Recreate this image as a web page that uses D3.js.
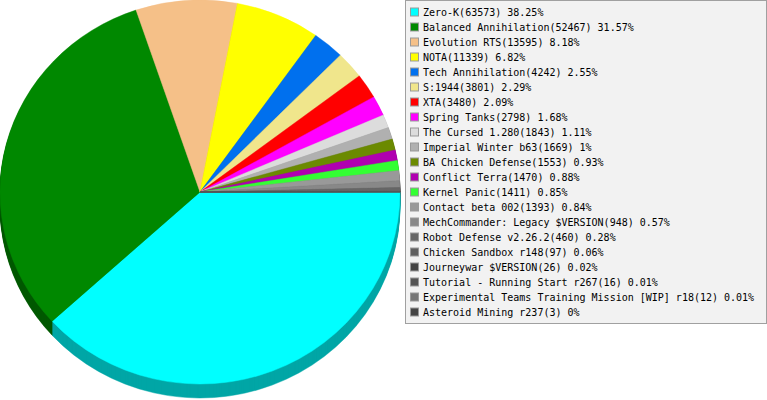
<!DOCTYPE html>
<html>
<head>
<meta charset="utf-8">
<script src="https://cdn.jsdelivr.net/npm/d3@7"></script>
<style>
  body { margin: 0; background: #fff; }
  svg { display: block; }
</style>
</head>
<body>
<svg width="767" height="400"></svg>
<script>
let names = ['Zero-K', 'Balanced Annihilation', 'Evolution RTS', 'NOTA', 'Tech Annihilation',
    'S:1944', 'XTA', 'Spring Tanks', 'The Cursed 1.280', 'Imperial Winter b63',
    'BA Chicken Defense', 'Conflict Terra', 'Kernel Panic', 'Contact beta 002',
    'MechCommander: Legacy $VERSION', 'Robot Defense v2.26.2', 'Chicken Sandbox r148',
    'Journeywar $VERSION', 'Tutorial - Running Start r267',
    'Experimental Teams Training Mission [WIP] r18', 'Asteroid Mining r237'];
let counts = [63573, 52467, 13595, 11339, 4242, 3801, 3480, 2798, 1843, 1669,
    1553, 1470, 1411, 1393, 948, 460, 97, 26, 16, 12, 3];
let colors = ['#00ffff', '#008800', '#f5c088', '#ffff00', '#0070ee', '#f0e68c', '#ff0000',
    '#ff00ff', '#dcdcdc', '#b0b0b0', '#6b8a00', '#b000b0', '#33ff33', '#999999',
    '#888888', '#666666', '#606060', '#444444', '#555555', '#777777', '#454545'];

let cx = 200
let cy = 192
let rx = 200
let ry = 192
let depth = 14

let total = d3.sum(counts)
let dataArr = names.map((n, i) => ({ name: n, value: counts[i], color: colors[i] }))

let svg = d3.select('svg')

let pie = d3.pie()
    .sort(null)
    .value(d => d.value)
    .startAngle(Math.PI / 2)
    .endAngle(Math.PI / 2 + 2 * Math.PI)

let arcs = pie(dataArr)

let arc = d3.arc()
    .innerRadius(0)
    .outerRadius(rx)

// side of the pie, stacked copies in darker colours
for (let k = depth; k >= 1; k--) {
    svg.append('g')
        .attr('transform', 'translate(' + cx + ',' + (cy + k) + ') scale(1,' + (ry / rx) + ')')
        .selectAll('path')
        .data(arcs)
        .enter()
        .append('path')
        .attr('d', arc)
        .attr('fill', d => d3.color(d.data.color).darker(1.2))
        .attr('stroke', d => d3.color(d.data.color).darker(1.2))
        .attr('stroke-width', 0.5)
}

// top face
svg.append('g')
    .attr('transform', 'translate(' + cx + ',' + cy + ') scale(1,' + (ry / rx) + ')')
    .selectAll('path')
    .data(arcs)
    .enter()
    .append('path')
    .attr('d', arc)
    .attr('fill', d => d.data.color)
    .attr('stroke', d => d.data.color)
    .attr('stroke-width', 0.5)

// legend
let legend = svg.append('g')

legend.append('rect')
    .attr('x', 405.5)
    .attr('y', 0.5)
    .attr('width', 361)
    .attr('height', 323)
    .attr('fill', '#f2f2f2')
    .attr('stroke', '#a0a0a0')

let rowY = d3.scalePoint()
    .domain(names)
    .range([12, 312])

let pct = v => Math.round(v / total * 10000) / 100

let rows = legend.selectAll('g.row')
    .data(dataArr)
    .enter()
    .append('g')
    .attr('class', 'row')
    .attr('transform', d => 'translate(0,' + rowY(d.name) + ')')

rows.append('rect')
    .attr('x', 410.5)
    .attr('y', -4)
    .attr('width', 8)
    .attr('height', 8)
    .attr('fill', d => d.color)
    .attr('stroke', '#999')

rows.append('text')
    .attr('x', 423)
    .attr('y', 3.5)
    .attr('font-family', 'DejaVu Sans Mono, monospace')
    .attr('font-size', 10)
    .attr('fill', '#000')
    .text(d => d.name + '(' + d.value + ') ' + pct(d.value) + '%')
</script>
</body>
</html>
